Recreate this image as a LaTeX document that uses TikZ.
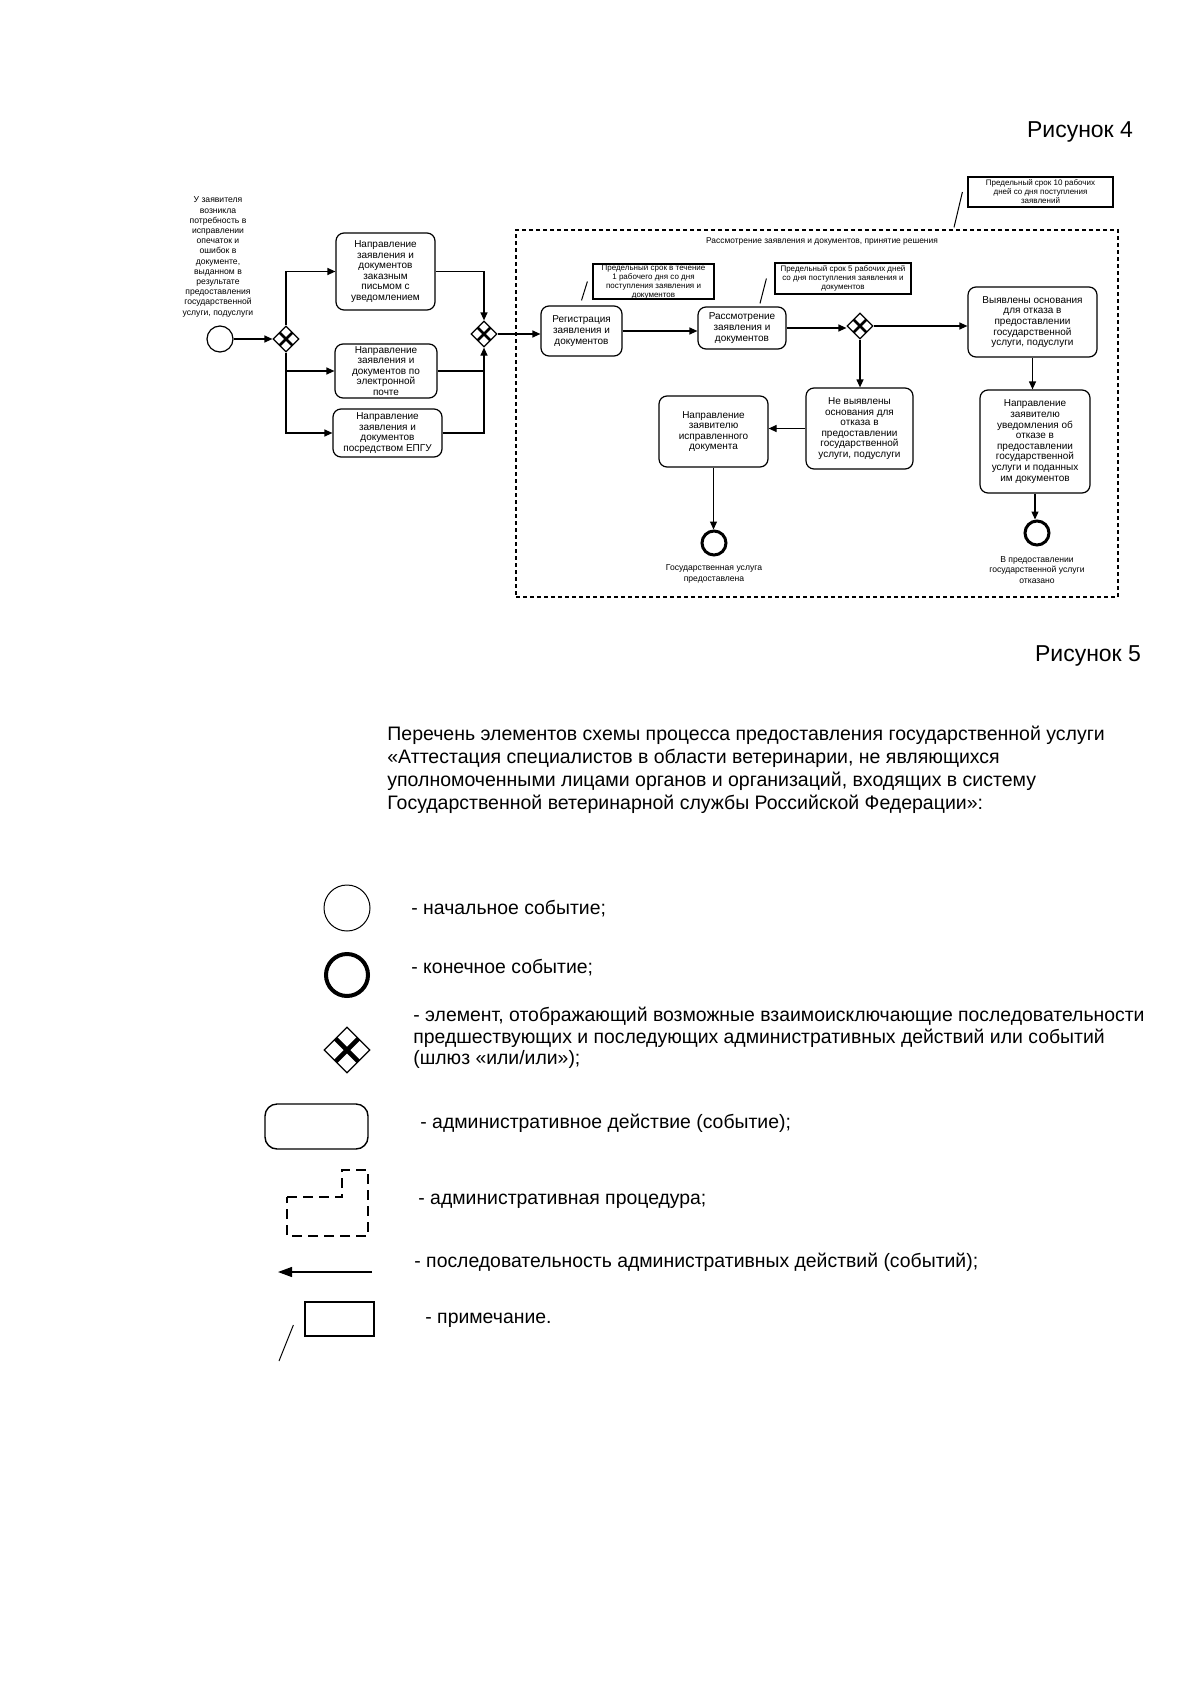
\documentclass[tikz,border=0pt]{standalone}
\usepackage{fontspec}
\setmainfont{Liberation Sans}
\usepackage{tikz}
\usetikzlibrary{arrows.meta, positioning}
\usetikzlibrary{shapes.geometric}

\begin{document}
\begin{tikzpicture}[x=0.5pt, y=-0.5pt,
        act/.style={rectangle, rounded corners=4pt, draw, line width=0.6pt, align=center, inner sep=0.5pt, font=\fontsize{5}{5.3}\selectfont},
        note/.style={rectangle, draw, line width=0.6pt, align=center, inner sep=0pt, font=\fontsize{4}{4.5}\selectfont},
        gw/.style={diamond, draw, line width=0.6pt, minimum width=#1, minimum height=#1, inner sep=0pt,
            path picture={
                \draw[line width=0.1*#1] ([shift={(-0.25*#1,-0.25*#1)}]path picture bounding box.center) -- ([shift={(0.25*#1,0.25*#1)}]path picture bounding box.center);
                \draw[line width=0.1*#1] ([shift={(-0.25*#1,0.25*#1)}]path picture bounding box.center) -- ([shift={(0.25*#1,-0.25*#1)}]path picture bounding box.center);
            }},
        gw/.default=13pt,
        startev/.style={circle, draw, line width=0.6pt, minimum size=13pt, inner sep=0pt},
        endev/.style={circle, draw, line width=1.5pt, minimum size=12pt, inner sep=0pt},
        procbox/.style={rectangle, draw, line width=0.6pt, dash pattern=on 2pt off 1.5pt},
        flow/.style={line width=0.6pt, -{Triangle[length=4pt, width=3.5pt]}},
        conn/.style={line width=0.6pt},
        assoc/.style={line width=0.5pt},
        lbl/.style={align=center, inner sep=0pt, font=\fontsize{4.3}{5.1}\selectfont},
        legtext/.style={anchor=west, align=left, inner sep=0pt, font=\fontsize{9.7}{10.8}\selectfont}
    ]

        \useasboundingbox (0,0) rectangle (1200,1696);

        \node[inner sep=0pt, font=\fontsize{11.5}{13}\selectfont] (fig4) at (1080,132) {Рисунок 4};

        \node[lbl] (applicant) at (218,257) {У заявителя\\возникла\\потребность в\\исправлении\\опечаток и\\ошибок в\\документе,\\выданном в\\результате\\предоставления\\государственной\\услуги, подуслуги};
        \node[startev] (start) at (220,339) {};
        \node[gw] (gw1) at (286,339) {};

        \node[act, minimum width=49.5pt, minimum height=38.5pt] (mail) at (385.5,271.5) {Направление\\заявления и\\документов\\заказным\\письмом с\\уведомлением};
        \node[act, minimum width=51pt, minimum height=27pt] (email) at (386,371) {Направление\\заявления и\\документов по\\электронной\\почте};
        \node[act, minimum width=54.5pt, minimum height=24pt] (epgu) at (387.5,433) {Направление\\заявления и\\документов\\посредством ЕПГУ};

        \node[gw] (gw2) at (484,334) {};

        \node[procbox, minimum width=301pt, minimum height=183.5pt] (proc) at (817,413.5) {};
        \node[lbl, font=\fontsize{4.2}{5}\selectfont] (proclabel) at (822,241) {Рассмотрение заявления и документов, принятие решения};
        \node[note, minimum width=72.5pt, minimum height=15pt] (n3) at (1040.5,192) {Предельный срок 10 рабочих\\дней со дня поступления\\заявлений};

        \node[act, minimum width=40.5pt, minimum height=25pt] (reg) at (581.5,331) {Регистрация\\заявления и\\документов};
        \node[act, minimum width=44pt, minimum height=21pt] (review) at (742,328) {Рассмотрение\\заявления и\\документов};
        \node[note, minimum width=60.5pt, minimum height=17.5pt] (n1) at (653.5,281.5) {Предельный срок в течение\\1 рабочего дня со дня\\поступления заявления и\\документов};
        \node[note, minimum width=68pt, minimum height=15.5pt] (n2) at (843,278.5) {Предельный срок 5 рабочих дней\\со дня поступления заявления и\\документов};

        \node[gw] (gw3) at (860,326) {};
        \node[act, minimum width=64.5pt, minimum height=35pt] (found) at (1032.5,322) {Выявлены основания\\для отказа в\\предоставлении\\государственной\\услуги, подуслуги};
        \node[act, minimum width=53.5pt, minimum height=40.5pt] (notfound) at (859.5,428.5) {Не выявлены\\основания для\\отказа в\\предоставлении\\государственной\\услуги, подуслуги};
        \node[act, minimum width=54.5pt, minimum height=35.5pt] (fixed) at (713.5,431.5) {Направление\\заявителю\\исправленного\\документа};
        \node[act, minimum width=55pt, minimum height=51.5pt] (refuse) at (1035,441.5) {Направление\\заявителю\\уведомления об\\отказе в\\предоставлении\\государственной\\услуги и поданных\\им документов};

        \node[endev] (done) at (714,543) {};
        \node[lbl] (donetext) at (714,574) {Государственная услуга\\предоставлена};
        \node[endev] (denied) at (1037,533) {};
        \node[lbl] (deniedtext) at (1037,570) {В предоставлении\\государственной услуги\\отказано};

        \draw[flow] (start) -- (gw1);
        \draw[flow] (gw1.north) |- (mail.west);
        \draw[flow] (gw1.south) |- (email.west);
        \draw[flow] (gw1.south) |- (epgu.west);
        \draw[flow] (mail.east) -| (gw2.north);
        \draw[conn] (email.east) -- (email.east -| gw2);
        \draw[flow] (epgu.east) -| (gw2.south);
        \draw[flow] (gw2.east) -- (gw2.east -| reg.west);
        \draw[flow] (reg.east) -- (reg.east -| review.west);
        \draw[flow] (review.east) -- (review.east -| gw3.west);
        \draw[flow] (gw3.east) -- (gw3.east -| found.west);
        \draw[flow] (gw3.south) -- (gw3.south |- notfound.north);
        \draw[flow] (notfound.west) -- (notfound.west -| fixed.east);
        \draw[flow] (fixed.south) -- (fixed.south |- done.north);
        \draw[flow] (found.south) -- (found.south |- refuse.north);
        \draw[flow] (refuse.south) -- (refuse.south |- denied.north);

        \draw[assoc] ([xshift=-2.5pt]n1.west) -- ([yshift=2.5pt]reg.north);
        \draw[assoc] ([xshift=-4pt]n2.west) -- ([xshift=9pt, yshift=1.5pt]review.north);
        \draw[assoc] ([xshift=-2.5pt]n3.west) -- ([xshift=68.5pt, yshift=1pt]proc.north);

        % legend
        \node[inner sep=0pt, font=\fontsize{11.5}{13}\selectfont] (fig5) at (1088,656) {Рисунок 5};
        \node[legtext, font=\fontsize{9.75}{11.5}\selectfont] (title) at (387,770) {Перечень элементов схемы процесса предоставления государственной услуги\\«Аттестация специалистов в области ветеринарии, не являющихся\\уполномоченными лицами органов и организаций, входящих в систему\\Государственной ветеринарной службы Российской Федерации»:};

        \node[startev, line width=0.5pt, minimum size=23pt] (lstart) at (347,908) {};
        \node[endev, line width=2pt, minimum size=21pt] (lend) at (347,975) {};
        \node[gw=23pt] (lgw) at (347,1050) {};
        \node[act, rounded corners=6pt, line width=0.7pt, minimum width=51.5pt, minimum height=22.5pt] (lact) at (316.5,1126.5) {};
        \draw[line width=0.6pt, dash pattern=on 5pt off 3pt] (287,1197) -- (342,1197) -- (342,1170) -- (368,1170) -- (368,1236) -- (287,1236) -- cycle;
        \coordinate (ltail) at (372,1272);
        \coordinate (lhead) at (278,1272);
        \draw[line width=0.6pt, -{Triangle[length=7pt, width=5pt]}] (ltail) -- (lhead);
        \node[note, minimum width=34.5pt, minimum height=17pt] (lnote) at (339.5,1319) {};
        \coordinate (lnoteend) at (279,1361);
        \draw[assoc] ([xshift=-5.5pt, yshift=-3pt]lnote.west) -- (lnoteend);

        \node[legtext] (tstart) at (411,909) {- начальное событие;};
        \node[legtext] (tend) at (411,968) {- конечное событие;};
        \node[legtext] (tgw) at (413,1038) {- элемент, отображающий возможные взаимоисключающие последовательности\\предшествующих и последующих административных действий или событий\\(шлюз «или/или»);};
        \node[legtext] (tact) at (420,1123) {- административное действие (событие);};
        \node[legtext] (tproc) at (418,1201) {- административная процедура;};
        \node[legtext] (tarrow) at (414,1262) {- последовательность административных действий (событий);};
        \node[legtext] (tnote) at (425,1320) {- примечание.};
    \end{tikzpicture}
\end{document}
